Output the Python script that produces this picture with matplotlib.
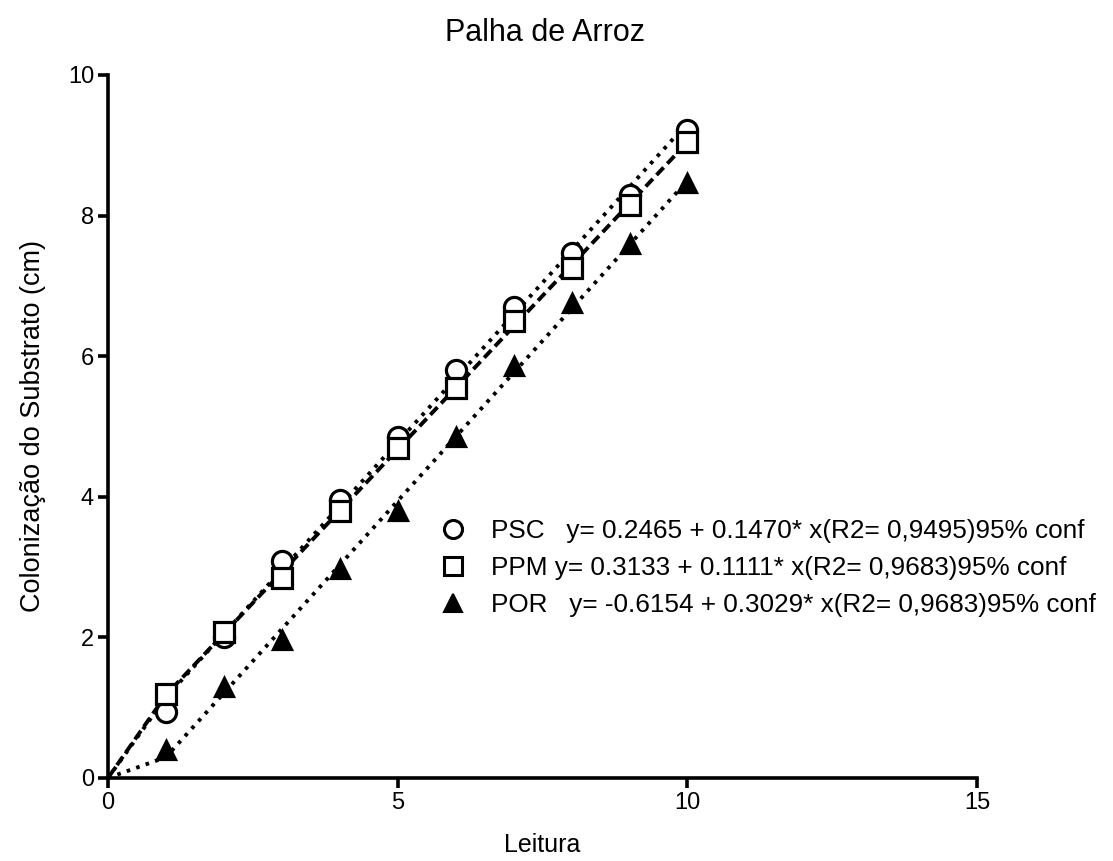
import numpy as np
import matplotlib
matplotlib.use("Agg")
import matplotlib.pyplot as plt
from matplotlib.lines import Line2D
from matplotlib import font_manager

# ---------------- data ----------------
leitura = [1, 2, 3, 4, 5, 6, 7, 8, 9, 10]
psc = [0.94, 2.00, 3.08, 3.95, 4.85, 5.80, 6.70, 7.47, 8.30, 9.22]
ppm = [1.20, 2.07, 2.85, 3.80, 4.70, 5.55, 6.50, 7.25, 8.15, 9.05]
por = [0.40, 1.30, 1.97, 2.97, 3.80, 4.85, 5.86, 6.75, 7.60, 8.47]
series_names = ["PSC", "PPM", "POR"]
legend_labels = [
    "PSC   y= 0.2465 + 0.1470* x(R2= 0,9495)95% conf",
    "PPM y= 0.3133 + 0.1111* x(R2= 0,9683)95% conf",
    "POR   y= -0.6154 + 0.3029* x(R2= 0,9683)95% conf",
]
origin = (0.0, 0.0)
title = "Palha de Arroz"
xlabel = "Leitura"
ylabel = "Colonização do Substrato (cm)"
xticks = [0, 5, 10, 15]
yticks = [0, 2, 4, 6, 8, 10]

# ---------------- fonts ----------------
names = {f.name for f in font_manager.fontManager.ttflist}
base = "Liberation Sans" if "Liberation Sans" in names else "DejaVu Sans"
plt.rcParams["font.family"] = [base, "DejaVu Sans"]
plt.rcParams["lines.scale_dashes"] = False

fig = plt.figure(figsize=(11.13, 8.61), dpi=100)
ax = fig.add_axes([0.097, 0.0964, 0.781, 0.8165])

lw = 2.8
x = np.array(leitura, dtype=float)
styles = [
    dict(marker="o", mfc="white", ls=(0, (2.6, 4.6)), ms=14.5),
    dict(marker="s", mfc="white", ls=(0, (7.5, 3.8)), ms=14.5),
    dict(marker="^", mfc="black", ls=(0, (2.6, 4.6)), ms=13),
]
for ys, st in zip([psc, ppm, por], styles):
    y = np.array(ys, dtype=float)
    slope, icpt = np.polyfit(x, y, 1)
    xl = np.concatenate([[origin[0]], x])
    yl = np.concatenate([[origin[1]], slope * x + icpt])
    ax.plot(xl, yl, color="black", lw=lw, linestyle=st["ls"],
            dash_capstyle="butt", zorder=2, clip_on=False)
    ax.plot(x, y, linestyle="none", marker=st["marker"], ms=st["ms"],
            mfc=st["mfc"], mec="black", mew=2.3, zorder=3, clip_on=False)

ax.set_xlim(0, 15)
ax.set_ylim(0, 10)
ax.set_xticks(xticks)
ax.set_yticks(yticks)
for s in ["top", "right"]:
    ax.spines[s].set_visible(False)
for s in ["left", "bottom"]:
    ax.spines[s].set_linewidth(2.6)
ax.tick_params(axis="both", direction="out", length=7, width=2.6, pad=3, labelsize=17)

ax.set_xlabel(xlabel, fontsize=18, labelpad=14)
ax.set_ylabel(ylabel, fontsize=19.5, labelpad=16)
fig.text(0.49, 0.962, title, fontsize=22, ha="center", va="center")

handles = [
    Line2D([], [], linestyle="none", marker="o", ms=13, mfc="white", mec="black", mew=2.2),
    Line2D([], [], linestyle="none", marker="s", ms=13, mfc="white", mec="black", mew=2.2),
    Line2D([], [], linestyle="none", marker="^", ms=13, mfc="black", mec="black", mew=1.5),
]
leg = ax.legend(handles, legend_labels, loc="center left",
                bbox_to_anchor=(0.395, 0.340), bbox_transform=fig.transFigure,
                frameon=False, borderpad=0, borderaxespad=0,
                handlelength=1.0, handletextpad=0.95, labelspacing=0.5,
                prop={"size": 18.8})

fig.savefig("out.png", dpi=100, facecolor="white")
